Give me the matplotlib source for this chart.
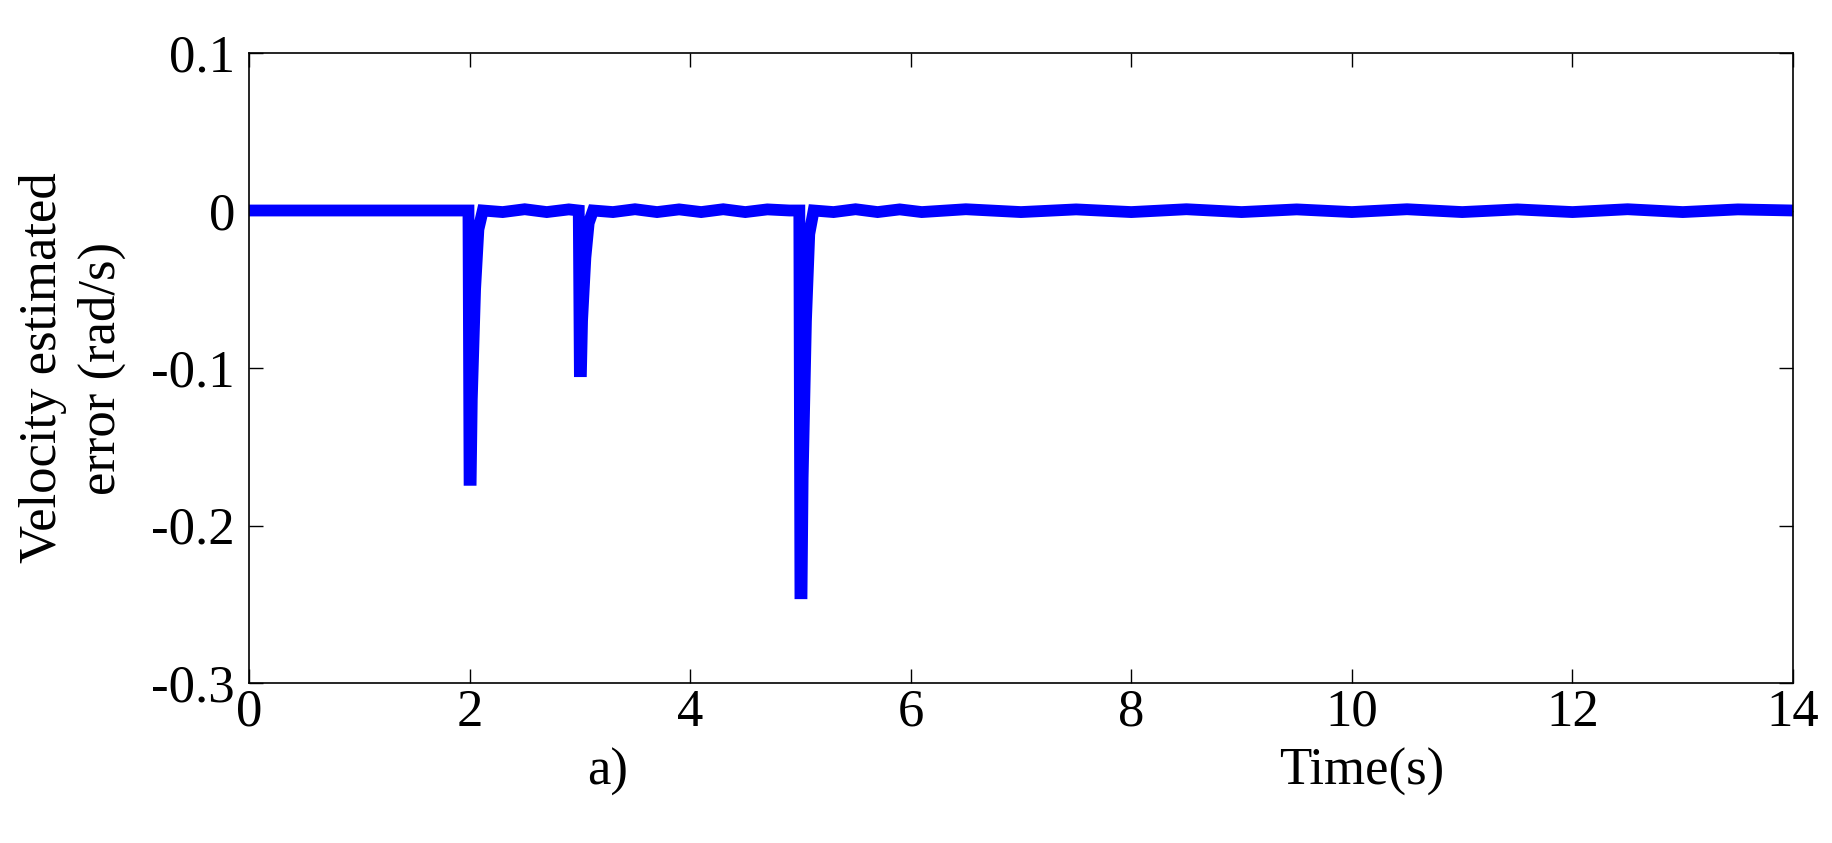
import matplotlib
matplotlib.use("Agg")
import matplotlib.pyplot as plt

plt.rcParams['font.family'] = ['Liberation Serif']

# Time (s) and velocity estimated error (rad/s)
t = [0.0, 1.99, 2.0, 2.01, 2.02, 2.05, 2.08, 2.12, 2.3, 2.5, 2.7, 2.9,
     2.99, 3.0, 3.01, 3.02, 3.05, 3.08, 3.12, 3.3, 3.5, 3.7, 3.9, 4.1, 4.3, 4.5, 4.7, 4.9,
     4.99, 5.0, 5.01, 5.02, 5.05, 5.08, 5.12, 5.3, 5.5, 5.7, 5.9, 6.1, 6.5, 7.0, 7.5,
     8.0, 8.5, 9.0, 9.5, 10.0, 10.5, 11.0, 11.5, 12.0, 12.5, 13.0, 13.5, 14.0]
err = [0.0, 0.0, -0.171, -0.171, -0.12, -0.05, -0.012, 0.0, -0.001, 0.0008, -0.001, 0.0007,
       0.0, -0.102, -0.102, -0.07, -0.03, -0.008, 0.0, -0.001, 0.0008, -0.001, 0.0007, -0.001, 0.0008, -0.001, 0.0007, 0.0,
       0.0, -0.243, -0.243, -0.17, -0.07, -0.015, 0.0, -0.001, 0.0008, -0.001, 0.0007, -0.001, 0.0008, -0.001, 0.0007,
       -0.001, 0.0008, -0.001, 0.0007, -0.001, 0.0008, -0.001, 0.0007, -0.001, 0.0008, -0.001, 0.0007, 0.0]

xticks = [0, 2, 4, 6, 8, 10, 12, 14]
yticks = [-0.3, -0.2, -0.1, 0, 0.1]
ytick_labels = ['-0.3', '-0.2', '-0.1', '0', '0.1']

fig = plt.figure(figsize=(18.33, 8.43), dpi=100)
ax = fig.add_axes([249/1833, 1 - 683/843, (1793-249)/1833, (683-53)/843])
ax.plot(t, err, color='#0000ff', linewidth=8.5, solid_joinstyle='miter')
ax.set_xlim(0, 14)
ax.set_ylim(-0.3, 0.1)
ax.set_xticks(xticks)
ax.set_xticklabels([str(v) for v in xticks])
ax.set_yticks(yticks)
ax.set_yticklabels(ytick_labels)
ax.tick_params(direction='in', length=10, width=1, labelsize=38, top=True, right=True)
ax.tick_params(axis='x', pad=4)
ax.tick_params(axis='y', pad=10)
for s in ax.spines.values():
    s.set_linewidth(1.2)
ax.set_ylabel('Velocity estimated\nerror (rad/s)', fontsize=38, linespacing=1.3, labelpad=18)
fig.text(608/1833, 1 - 772/843, 'a)', fontsize=38, ha='center', va='center')
fig.text(1362/1833, 1 - 772/843, 'Time(s)', fontsize=38, ha='center', va='center')
fig.savefig('out.png', dpi=100, facecolor='white')
